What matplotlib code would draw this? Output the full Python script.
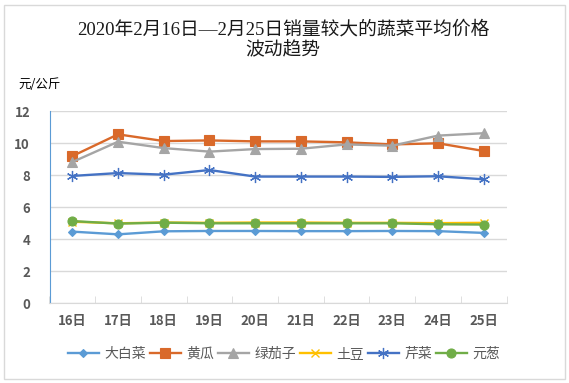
import matplotlib
matplotlib.use("Agg")
import matplotlib.pyplot as plt
from matplotlib.patches import Rectangle

plt.rcParams['font.family'] = ['Noto Sans CJK SC', 'DejaVu Sans']

days = ["16日", "17日", "18日", "19日", "20日", "21日", "22日", "23日", "24日", "25日"]

cabbage = [4.48, 4.31, 4.50, 4.52, 4.52, 4.51, 4.51, 4.52, 4.51, 4.40]
cucumber = [9.20, 10.56, 10.14, 10.18, 10.12, 10.12, 10.06, 9.93, 10.00, 9.52]
eggplant = [8.83, 10.10, 9.70, 9.48, 9.64, 9.66, 9.93, 9.85, 10.48, 10.63]
potato = [5.10, 5.00, 5.05, 5.03, 5.05, 5.05, 5.03, 5.03, 5.01, 5.03]
celery = [7.96, 8.14, 8.04, 8.33, 7.92, 7.92, 7.92, 7.90, 7.94, 7.75]
onion = [5.14, 4.98, 5.04, 5.00, 5.00, 5.00, 5.00, 5.00, 4.94, 4.92]

# name, values, colour, marker, marker size, marker edge width
series = [
    ("大白菜", cabbage, "#5B9BD5", "D", 4.5, 0.8),
    ("黄瓜", cucumber, "#D9692A", "s", 6.5, 0.8),
    ("绿茄子", eggplant, "#A5A5A5", "^", 6.5, 0.8),
    ("土豆", potato, "#FFC000", "x", 6, 1.0),
    ("芹菜", celery, "#4472C4", (6, 2, 0), 8, 0.9),
    ("元葱", onion, "#70AD47", "o", 6.5, 0.8),
]

fig = plt.figure(figsize=(5.69, 3.83), dpi=100)
fig.patches.append(Rectangle((4 / 569, 4 / 383), 561 / 569, 374 / 383,
                             transform=fig.transFigure, fill=False,
                             edgecolor="#D9D9D9", linewidth=1))
ax = fig.add_axes([49.5 / 569, 1 - 303.3 / 383, 457 / 569, 192 / 383])

x = list(range(len(days)))
for name, vals, col, mk, ms, mew in series:
    ax.plot(x, vals, color=col, marker=mk, markersize=ms, linewidth=1.7,
            label=name, markeredgecolor=col, markeredgewidth=mew)

ax.set_xlim(-0.5, len(days) - 0.5)
ax.set_ylim(0, 12)
ax.set_yticks(range(0, 13, 2))
ax.set_xticks(x)
ax.set_xticklabels(days)
ax.set_xticks([i - 0.5 for i in range(len(days) + 1)], minor=True)
ax.grid(axis="y", color="#D9D9D9", linewidth=1)
ax.set_axisbelow(True)
for s in ("top", "right"):
    ax.spines[s].set_visible(False)
ax.spines["left"].set_color("#5B9BD5")
ax.spines["bottom"].set_color("#D9D9D9")
ax.tick_params(axis="y", length=0, labelsize=9.5, labelcolor="#595959", pad=14)
ax.tick_params(axis="x", which="major", length=0, labelsize=9.5, labelcolor="#595959", pad=8)
ax.tick_params(axis="x", which="minor", direction="in", length=5, color="#D9D9D9")
for lab in ax.get_xticklabels() + ax.get_yticklabels():
    lab.set_fontweight("bold")

title_fam = ["Liberation Serif", "Noto Sans CJK SC"]
fig.text(283 / 569, 1 - 30 / 383, "2020年2月16日—2月25日销量较大的蔬菜平均价格",
         ha="center", va="center", fontsize=13.5, color="#1A1A1A", family=title_fam)
fig.text(283 / 569, 1 - 51 / 383, "波动趋势", ha="center", va="center",
         fontsize=13.5, color="#1A1A1A", family=title_fam)
fig.text(18 / 569, 1 - 85 / 383, "元/公斤", ha="left", va="center", fontsize=9, color="black")

leg = fig.legend(loc="center", bbox_to_anchor=(284 / 569, 1 - 354 / 383), ncol=6,
                 frameon=False, fontsize=10, handlelength=2.2, handletextpad=0.4,
                 columnspacing=0.3, labelcolor="#595959", borderaxespad=0)

fig.savefig("out.png", dpi=100)
